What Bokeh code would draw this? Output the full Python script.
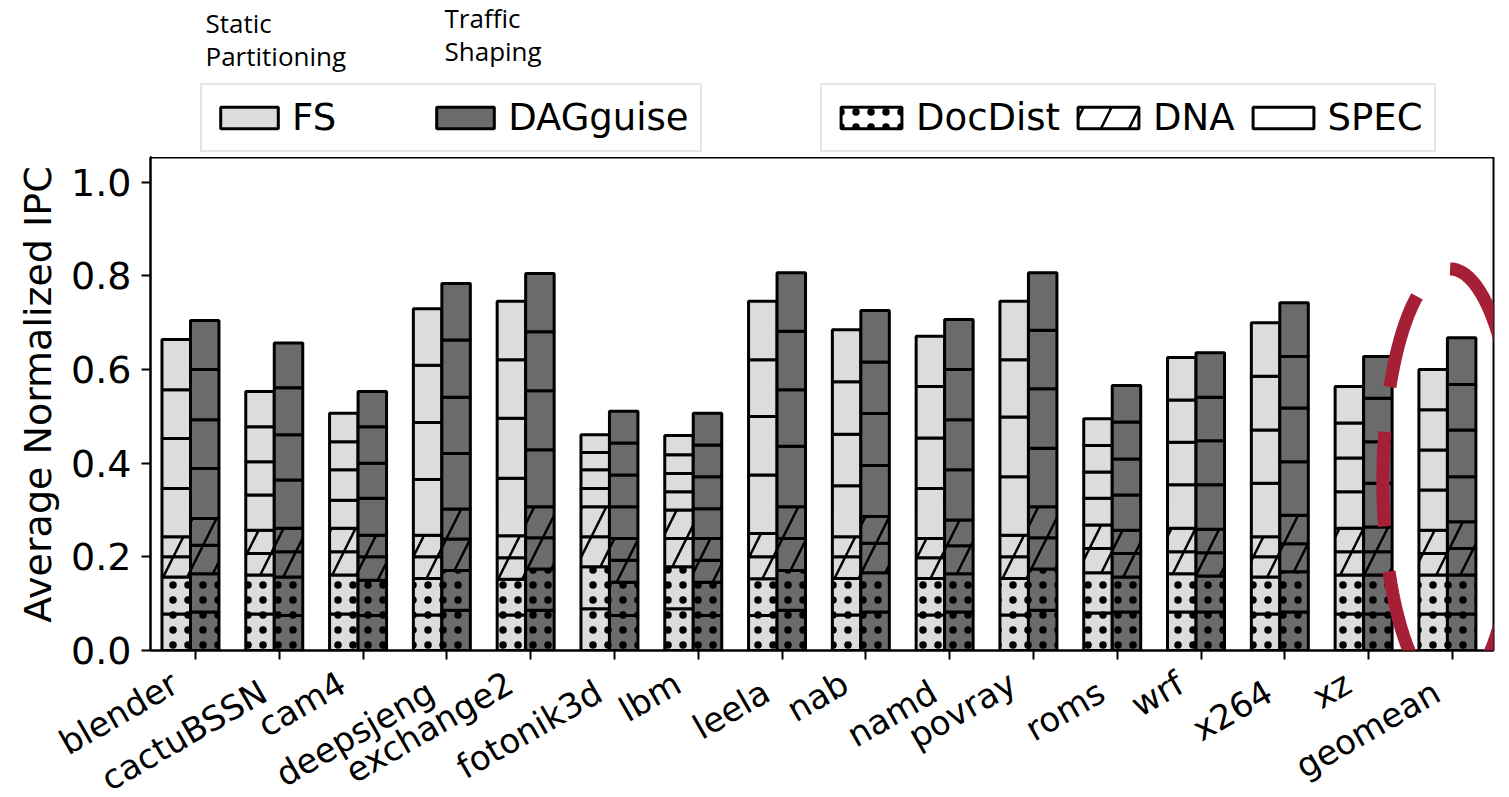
import math
from bokeh.plotting import figure
from bokeh.layouts import column
from bokeh.models import (ColumnDataSource, Range1d, FixedTicker, Legend, LegendItem,
                          Label, PolyAnnotation, NumeralTickFormatter)
from bokeh.transform import dodge
from bokeh.embed import file_html
from bokeh.resources import INLINE

categories = ["blender", "cactuBSSN", "cam4", "deepsjeng", "exchange2", "fotonik3d", "lbm",
              "leela", "nab", "namd", "povray", "roms", "wrf", "x264", "xz", "geomean"]

# FS (static partitioning) stacked segments
fs_docdist_1 = [0.078, 0.078, 0.078, 0.076, 0.076, 0.089, 0.089, 0.075, 0.076, 0.076, 0.076, 0.080, 0.082, 0.078, 0.078, 0.078]
fs_docdist_2 = [0.079, 0.083, 0.083, 0.078, 0.076, 0.090, 0.090, 0.078, 0.078, 0.078, 0.078, 0.086, 0.082, 0.079, 0.083, 0.083]
fs_dna_1 = [0.043, 0.046, 0.050, 0.046, 0.046, 0.064, 0.060, 0.047, 0.046, 0.044, 0.046, 0.052, 0.047, 0.043, 0.050, 0.046]
fs_dna_2 = [0.043, 0.050, 0.050, 0.046, 0.047, 0.064, 0.061, 0.050, 0.043, 0.041, 0.046, 0.050, 0.050, 0.043, 0.050, 0.050]
fs_spec_1 = [0.103, 0.075, 0.060, 0.119, 0.123, 0.039, 0.039, 0.125, 0.109, 0.107, 0.125, 0.057, 0.093, 0.114, 0.078, 0.086]
fs_spec_2 = [0.107, 0.071, 0.065, 0.122, 0.128, 0.040, 0.039, 0.125, 0.110, 0.108, 0.128, 0.056, 0.091, 0.114, 0.072, 0.085]
fs_spec_3 = [0.104, 0.075, 0.060, 0.122, 0.125, 0.037, 0.040, 0.121, 0.112, 0.110, 0.122, 0.057, 0.090, 0.115, 0.075, 0.086]
fs_spec_4 = [0.107, 0.075, 0.061, 0.121, 0.125, 0.038, 0.041, 0.125, 0.111, 0.107, 0.125, 0.057, 0.091, 0.114, 0.078, 0.086]

# DAGguise (traffic shaping) stacked segments
dag_docdist_1 = [0.082, 0.075, 0.075, 0.086, 0.086, 0.075, 0.075, 0.086, 0.082, 0.082, 0.086, 0.082, 0.082, 0.082, 0.078, 0.078]
dag_docdist_2 = [0.082, 0.082, 0.075, 0.085, 0.088, 0.071, 0.071, 0.085, 0.084, 0.082, 0.088, 0.075, 0.077, 0.086, 0.083, 0.083]
dag_dna_1 = [0.061, 0.054, 0.050, 0.067, 0.067, 0.047, 0.047, 0.068, 0.063, 0.060, 0.067, 0.050, 0.050, 0.060, 0.050, 0.057]
dag_dna_2 = [0.057, 0.050, 0.046, 0.064, 0.066, 0.046, 0.046, 0.068, 0.057, 0.055, 0.066, 0.050, 0.050, 0.061, 0.053, 0.057]
dag_spec_1 = [0.107, 0.103, 0.079, 0.119, 0.122, 0.068, 0.064, 0.129, 0.109, 0.107, 0.125, 0.075, 0.095, 0.114, 0.093, 0.096]
dag_spec_2 = [0.104, 0.097, 0.075, 0.120, 0.126, 0.068, 0.068, 0.121, 0.111, 0.107, 0.127, 0.077, 0.094, 0.115, 0.089, 0.100]
dag_spec_3 = [0.107, 0.100, 0.078, 0.122, 0.126, 0.068, 0.068, 0.125, 0.110, 0.107, 0.125, 0.079, 0.093, 0.110, 0.093, 0.097]
dag_spec_4 = [0.105, 0.096, 0.075, 0.121, 0.124, 0.068, 0.068, 0.125, 0.110, 0.107, 0.123, 0.078, 0.095, 0.115, 0.089, 0.100]

y_ticks = [0.0, 0.2, 0.4, 0.6, 0.8, 1.0]
layers = ["docdist_1", "docdist_2", "dna_1", "dna_2", "spec_1", "spec_2", "spec_3", "spec_4"]

data = dict(x=list(range(len(categories))))
for name, vals in [("fs_docdist_1", fs_docdist_1), ("fs_docdist_2", fs_docdist_2),
                   ("fs_dna_1", fs_dna_1), ("fs_dna_2", fs_dna_2),
                   ("fs_spec_1", fs_spec_1), ("fs_spec_2", fs_spec_2),
                   ("fs_spec_3", fs_spec_3), ("fs_spec_4", fs_spec_4),
                   ("dag_docdist_1", dag_docdist_1), ("dag_docdist_2", dag_docdist_2),
                   ("dag_dna_1", dag_dna_1), ("dag_dna_2", dag_dna_2),
                   ("dag_spec_1", dag_spec_1), ("dag_spec_2", dag_spec_2),
                   ("dag_spec_3", dag_spec_3), ("dag_spec_4", dag_spec_4)]:
    data[name] = vals
src = ColumnDataSource(data)

FONT = "DejaVu Sans"
FS_COLOR = "#dcdcdc"
DAG_COLOR = "#6b6b6b"
LW = 3

hatches = [".", ".", "/", "/", " ", " ", " ", " "]
scales = [15, 15, 48, 48, 12, 12, 12, 12]
weights = [3.5, 3.5, 2.5, 2.5, 1, 1, 1, 1]

# ---------------- top strip: legends and notes ----------------
top = figure(width=1509, height=157, min_border=0, x_range=Range1d(0, 1), y_range=Range1d(0, 1),
             x_axis_type=None, y_axis_type=None, output_backend="svg", toolbar_location=None)
top.outline_line_color = None
top.xgrid.visible = False
top.ygrid.visible = False

# legend proxies, placed outside the visible range of the strip
proxy = ColumnDataSource(dict(x=[-5.0], top=[-5.0]))
common = dict(x="x", top="top", width=0.3, source=proxy, line_color="black", line_width=LW)
r_fs = top.vbar(fill_color=FS_COLOR, **common)
r_dag = top.vbar(fill_color=DAG_COLOR, **common)
r_doc = top.vbar(fill_color="white", hatch_pattern=".", hatch_color="black",
                 hatch_scale=15, hatch_weight=3.5, **common)
r_dna = top.vbar(fill_color="white", hatch_pattern="/", hatch_color="black",
                 hatch_scale=56, hatch_weight=2.5, **common)
r_spec = top.vbar(fill_color="white", **common)

leg_style = dict(orientation="horizontal", glyph_height=27, label_standoff=7, padding=11,
                 margin=0, label_text_font=FONT, label_text_font_size="37px",
                 label_text_color="black", border_line_color="#cccccc",
                 border_line_width=2, background_fill_alpha=1)
leg1 = Legend(items=[LegendItem(label="FS", renderers=[r_fs]),
                     LegendItem(label="DAGguise", renderers=[r_dag])],
              location=(50, 5), spacing=93, glyph_width=72, **leg_style)
leg2 = Legend(items=[LegendItem(label="DocDist", renderers=[r_doc]),
                     LegendItem(label="DNA", renderers=[r_dna]),
                     LegendItem(label="SPEC", renderers=[r_spec])],
              location=(670, 5), spacing=10, glyph_width=76, **leg_style)
top.add_layout(leg1)
top.add_layout(leg2)

TFONT = "Open Sans"
for txt, x, y in [("Static", 55, 135), ("Partitioning", 55, 102),
                  ("Traffic", 294, 140), ("Shaping", 294, 107)]:
    top.add_layout(Label(x=x, y=y, x_units="screen", y_units="screen", text=txt,
                         text_font=TFONT, text_font_size="26px", text_color="black",
                         text_baseline="alphabetic"))

# ---------------- main chart ----------------
p = figure(frame_width=1343, frame_height=493, min_border_left=150, min_border_right=16,
           min_border_top=0, min_border_bottom=100,
           x_range=Range1d(-0.537, 15.49), y_range=Range1d(0, 1.053),
           output_backend="svg", toolbar_location=None)

fs_r = p.vbar_stack(["fs_" + l for l in layers], x=dodge("x", -0.23), width=0.34, source=src,
                    fill_color=FS_COLOR, line_color="black", line_width=LW,
                    hatch_pattern=hatches, hatch_color="black", hatch_scale=scales,
                    hatch_weight=weights)
dag_r = p.vbar_stack(["dag_" + l for l in layers], x=dodge("x", 0.11), width=0.34, source=src,
                     fill_color=DAG_COLOR, line_color="black", line_width=LW,
                     hatch_pattern=hatches, hatch_color="black", hatch_scale=scales,
                     hatch_weight=weights)

p.xgrid.visible = False
p.ygrid.visible = False
p.outline_line_color = "black"
p.outline_line_width = 2
p.outline_line_alpha = 1

PAD = "\u2002\u2009"
p.xaxis.ticker = FixedTicker(ticks=list(range(len(categories))))
p.xaxis.major_label_overrides = {i: ("\n" + c if i % 2 else c) + PAD
                                 for i, c in enumerate(categories)}
p.xaxis.major_label_orientation = math.pi / 6
p.yaxis.ticker = FixedTicker(ticks=y_ticks)
p.yaxis.formatter = NumeralTickFormatter(format="0.0")
p.yaxis.axis_label = "\u2002Average Normalized IPC"
for ax in (p.xaxis[0], p.yaxis[0]):
    ax.major_label_text_font = FONT
    ax.major_label_text_color = "black"
    ax.axis_line_width = 2
    ax.major_tick_line_width = 2
    ax.major_tick_out = 9
    ax.major_tick_in = 0
    ax.minor_tick_line_color = None
p.xaxis.major_label_text_font_size = "34px"
p.xaxis.major_label_text_line_height = 0.5
p.yaxis.major_label_text_font_size = "38px"
p.yaxis.axis_label_text_font = FONT
p.yaxis.axis_label_text_font_size = "38px"
p.yaxis.axis_label_text_font_style = "normal"
p.yaxis.axis_label_text_color = "black"
p.yaxis.axis_label_standoff = 8
p.yaxis.major_label_standoff = 10
p.xaxis.major_label_standoff = 9

# highlight ellipse around geomean
ell_cx, ell_cy, ell_a, ell_b = 14.97, 0.36, 0.80, 0.455
ts = [2 * math.pi * k / 240 for k in range(241)]
p.add_layout(PolyAnnotation(xs=[ell_cx + ell_a * math.cos(t) for t in ts],
                            ys=[ell_cy + ell_b * math.sin(t) for t in ts],
                            fill_alpha=0, line_color="#a51f36", line_alpha=1, line_width=13,
                            line_dash="95 45"))

layout = column(top, p, spacing=0)
open("out.html", "w").write(file_html(layout, INLINE))
